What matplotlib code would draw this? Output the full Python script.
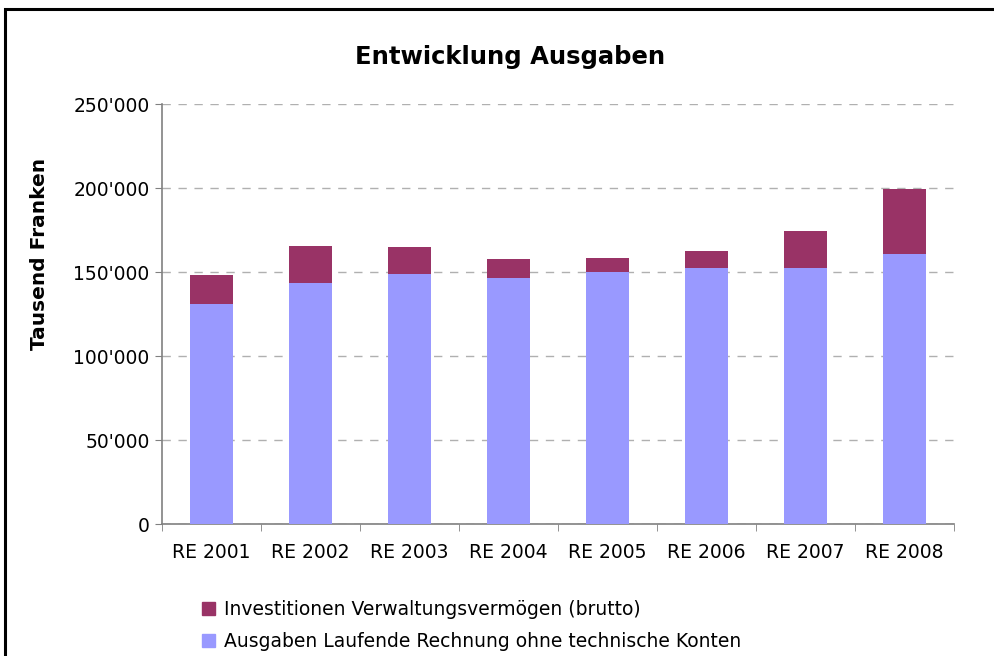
import matplotlib.pyplot as plt
from matplotlib.patches import Rectangle, Patch
from matplotlib.ticker import FuncFormatter, FixedLocator

# Daten (Tausend Franken)
jahre = ['RE 2001', 'RE 2002', 'RE 2003', 'RE 2004', 'RE 2005', 'RE 2006', 'RE 2007', 'RE 2008']
laufende_rechnung = [131000, 143500, 148800, 146400, 150000, 152400, 152400, 160700]
investitionen = [17200, 22000, 16100, 11300, 8300, 10100, 22000, 38700]

blau = '#9999FF'
violett = '#993366'

fig = plt.figure(figsize=(9.94, 6.56), dpi=100)
ax = fig.add_axes([162 / 994, 132 / 656, 792 / 994, 420 / 656])

x = list(range(len(jahre)))
ax.bar(x, laufende_rechnung, width=0.43, color=blau, zorder=3)
ax.bar(x, investitionen, width=0.43, bottom=laufende_rechnung, color=violett, zorder=3)

ax.set_xlim(-0.5, len(jahre) - 0.5)
ax.set_ylim(0, 250000)
ax.set_yticks(range(0, 250001, 50000))
ax.yaxis.set_major_formatter(FuncFormatter(lambda v, p: f'{int(v):,}'.replace(',', "'")))
ax.yaxis.grid(True, color='#b0b0b0', linestyle=(0, (6, 5.5)), linewidth=1, zorder=0)

# Kategorien-Beschriftung mittig, Striche zwischen den Kategorien
ax.set_xticks(x)
ax.set_xticklabels(jahre)
ax.tick_params(axis='x', length=0, pad=14, labelsize=13.5)
ax.xaxis.set_minor_locator(FixedLocator([i - 0.5 for i in range(len(jahre) + 1)]))
ax.tick_params(axis='x', which='minor', length=5, color='#808080', direction='out')
ax.tick_params(axis='y', length=5, color='#808080', labelsize=13.5, pad=4)

for s in ['top', 'right']:
    ax.spines[s].set_visible(False)
for s in ['left', 'bottom']:
    ax.spines[s].set_color('#808080')
    ax.spines[s].set_linewidth(1.2)

fig.text(40 / 994, 1 - 254 / 656, 'Tausend Franken', rotation=90, ha='center', va='center',
         fontsize=14.5, fontweight='bold')
fig.text(510 / 994, 1 - 57 / 656, 'Entwicklung Ausgaben', ha='center', va='center',
         fontsize=17.5, fontweight='bold')

handles = [Patch(color=violett), Patch(color=blau)]
labels = ['Investitionen Verwaltungsvermögen (brutto)',
          'Ausgaben Laufende Rechnung ohne technische Konten']
fig.legend(handles, labels, loc='upper left', bbox_to_anchor=(202 / 994, 1 - 600 / 656),
           frameon=False, fontsize=13.5, handlelength=0.7, handleheight=0.7,
           handletextpad=0.45, labelspacing=0.68, borderaxespad=0, borderpad=0)

# Rahmen
fig.patches.append(Rectangle((5 / 994, -0.05), 1.1, 1 - 9 / 656 + 0.05, transform=fig.transFigure,
                             fill=False, edgecolor='black', linewidth=2.2))

fig.savefig('out.png', dpi=100)
